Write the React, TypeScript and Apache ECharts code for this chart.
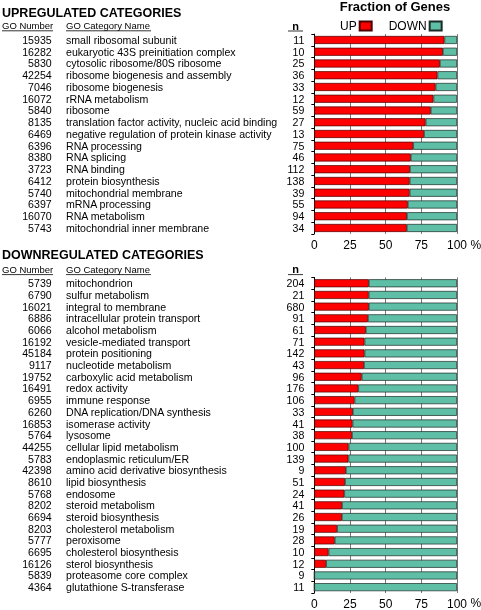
import React, { useEffect, useRef } from "react";
import * as echarts from "echarts";

const FONT = "'Liberation Sans', Arial, Helvetica, sans-serif";

const upGo = [15935, 16282, 5830, 42254, 7046, 16072, 5840, 8135, 6469, 6396, 8380, 3723, 6412, 5740, 6397, 16070, 5743];
const upNames = [
  "small ribosomal subunit",
  "eukaryotic 43S preinitiation complex",
  "cytosolic ribosome/80S ribosome",
  "ribosome biogenesis and assembly",
  "ribosome biogenesis",
  "rRNA metabolism",
  "ribosome",
  "translation factor activity, nucleic acid binding",
  "negative regulation of protein kinase activity",
  "RNA processing",
  "RNA splicing",
  "RNA binding",
  "protein biosynthesis",
  "mitochondrial membrane",
  "mRNA processing",
  "RNA metabolism",
  "mitochondrial inner membrane",
];
const upN = [11, 10, 25, 36, 33, 12, 59, 27, 13, 75, 46, 112, 138, 39, 55, 94, 34];
const upFracUp = [91.2, 90.1, 88.0, 86.3, 85.0, 83.5, 81.6, 78.0, 76.9, 69.3, 67.6, 67.0, 66.8, 66.8, 65.5, 64.9, 64.8];
const upFracDown = [8.8, 9.9, 12.0, 13.7, 15.0, 16.5, 18.4, 22.0, 23.1, 30.7, 32.4, 33.0, 33.2, 33.2, 34.5, 35.1, 35.2];

const downGo = [5739, 6790, 16021, 6886, 6066, 16192, 45184, 9117, 19752, 16491, 6955, 6260, 16853, 5764, 44255, 5783, 42398, 8610, 5768, 8202, 6694, 8203, 5777, 6695, 16126, 5839, 4364];
const downNames = [
  "mitochondrion",
  "sulfur metabolism",
  "integral to membrane",
  "intracellular protein transport",
  "alcohol metabolism",
  "vesicle-mediated transport",
  "protein positioning",
  "nucleotide metabolism",
  "carboxylic acid metabolism",
  "redox activity",
  "immune response",
  "DNA replication/DNA synthesis",
  "isomerase activity",
  "lysosome",
  "cellular lipid metabolism",
  "endoplasmic reticulum/ER",
  "amino acid derivative biosynthesis",
  "lipid biosynthesis",
  "endosome",
  "steroid metabolism",
  "steroid biosynthesis",
  "cholesterol metabolism",
  "peroxisome",
  "cholesterol biosynthesis",
  "sterol biosynthesis",
  "proteasome core complex",
  "glutathione S-transferase",
];
const downN = [204, 21, 680, 91, 61, 71, 142, 43, 96, 176, 106, 33, 41, 38, 100, 139, 9, 51, 24, 41, 26, 19, 28, 10, 12, 9, 11];
const downFracUp = [38.2, 38.1, 38.2, 37.6, 36.1, 35.2, 35.2, 34.8, 33.2, 30.8, 28.2, 27.0, 26.8, 26.4, 24.0, 23.9, 22.1, 21.5, 21.0, 19.4, 19.3, 16.0, 14.3, 10.0, 8.3, 0, 0];
const downFracDown = [61.8, 61.9, 61.8, 62.4, 63.9, 64.8, 64.8, 65.2, 66.8, 69.2, 71.8, 73.0, 73.2, 73.6, 76.0, 76.1, 77.9, 78.5, 79.0, 80.6, 80.7, 84.0, 85.7, 90.0, 91.7, 100, 100];

const xTicks = [0, 25, 50, 75, 100];

const RED = "#ff0000";
const TEAL = "#5fbfa6";

export default function App() {
  const ref = useRef<HTMLDivElement>(null);
  useEffect(() => {
    if (!ref.current) return;
    const chart = echarts.init(ref.current, null, { renderer: "svg" });

    const GRID_LEFT = 314.3;
    const GRID_W = 142.7;
    const grids = [
      { left: GRID_LEFT, top: 34.1, width: GRID_W, height: 17 * 11.75 },
      { left: GRID_LEFT, top: 277.4, width: GRID_W, height: 27 * 11.7 },
    ];

    const sets = [
      { go: upGo, names: upNames, n: upN, up: upFracUp, down: upFracDown },
      { go: downGo, names: downNames, n: downN, up: downFracUp, down: downFracDown },
    ];

    const labelBase = { color: "#000", fontSize: 10.6, fontFamily: FONT, interval: 0 };

    const xAxis = [0, 1].map((i) => ({
      type: "value",
      gridIndex: i,
      min: xTicks[0],
      max: xTicks[xTicks.length - 1],
      interval: 25,
      axisLine: { show: false },
      axisTick: { show: false },
      splitLine: { show: true, lineStyle: { color: "#555", width: 0.8 } },
      axisLabel: { color: "#000", fontSize: 12, fontFamily: FONT, margin: 5 },
    }));

    const yAxis: any[] = [];
    sets.forEach((s, i) => {
      yAxis.push({
        type: "category",
        gridIndex: i,
        position: "left",
        inverse: true,
        data: s.names,
        axisLine: { show: true, lineStyle: { color: "#000", width: 1 } },
        axisTick: { show: true, length: 3, lineStyle: { color: "#000" } },
        axisLabel: { ...labelBase, margin: 10, formatter: (_v: string, idx: number) => String(s.n[idx]) },
      });
      yAxis.push({
        type: "category",
        gridIndex: i,
        position: "left",
        inverse: true,
        data: s.names,
        axisLine: { show: false },
        axisTick: { show: false },
        axisLabel: { ...labelBase, margin: GRID_LEFT - 51.7, align: "right", formatter: (_v: string, idx: number) => String(s.go[idx]) },
      });
      yAxis.push({
        type: "category",
        gridIndex: i,
        position: "left",
        inverse: true,
        data: s.names,
        axisLine: { show: false },
        axisTick: { show: false },
        axisLabel: { ...labelBase, margin: GRID_LEFT - 66, align: "left" },
      });
    });

    const series: any[] = [];
    sets.forEach((s, i) => {
      series.push({
        name: "UP",
        type: "bar",
        stack: "g" + i,
        xAxisIndex: i,
        yAxisIndex: i * 3,
        barWidth: 8,
        data: s.up,
        itemStyle: { color: RED, borderColor: "#4a0000", borderWidth: 0.7 },
      });
      series.push({
        name: "DOWN",
        type: "bar",
        stack: "g" + i,
        xAxisIndex: i,
        yAxisIndex: i * 3,
        barWidth: 8,
        data: s.down,
        itemStyle: { color: TEAL, borderColor: "#1a2a26", borderWidth: 0.7 },
      });
    });

    const txt = (x: number, y: number, text: string, size: number, bold = false, align = "left") => ({
      type: "text",
      x,
      y,
      style: {
        text,
        fill: "#000",
        font: `${bold ? "bold " : ""}${size}px ${FONT}`,
        align,
        verticalAlign: "middle",
      },
    });
    const uline = (x1: number, x2: number, y: number) => ({
      type: "line",
      shape: { x1, y1: y, x2, y2: y },
      style: { stroke: "#000", lineWidth: 0.8 },
    });

    const graphic: any[] = [
      txt(2, 12.5, "UPREGULATED CATEGORIES", 12.5, true),
      txt(2, 25.5, "GO Number", 9.5),
      uline(2, 53, 30.8),
      txt(66, 25.5, "GO Category Name", 9.5),
      uline(66, 151, 30.8),
      txt(295.5, 25.5, "n", 11, true, "center"),
      uline(288, 303, 31),
      txt(395, 6.5, "Fraction of Genes", 13, true, "center"),
      txt(470.5, 245.2, "%", 12, false, "left"),

      txt(2, 254.5, "DOWNREGULATED CATEGORIES", 12.5, true),
      txt(2, 269.5, "GO Number", 9.5),
      uline(2, 53, 274.6),
      txt(66, 269.5, "GO Category Name", 9.5),
      uline(66, 151, 274.6),
      txt(295.5, 269, "n", 11, true, "center"),
      uline(288, 303, 274.6),
      txt(470.5, 603, "%", 12, false, "left"),
    ];

    chart.setOption({
      animation: false,
      textStyle: { fontFamily: FONT },
      legend: {
        data: ["UP", "DOWN"],
        left: 335,
        top: 15,
        align: "right",
        icon: "rect",
        itemWidth: 12,
        itemHeight: 9,
        itemGap: 16,
        selectedMode: false,
        textStyle: { color: "#000", fontSize: 12, fontFamily: FONT, padding: [0, -2, 0, 0] },
      },
      grid: grids,
      xAxis,
      yAxis,
      series,
      graphic,
    });

    return () => chart.dispose();
  }, []);

  return <div ref={ref} style={{ position: "fixed", left: 0, top: 0, width: 481, height: 610 }} />;
}
